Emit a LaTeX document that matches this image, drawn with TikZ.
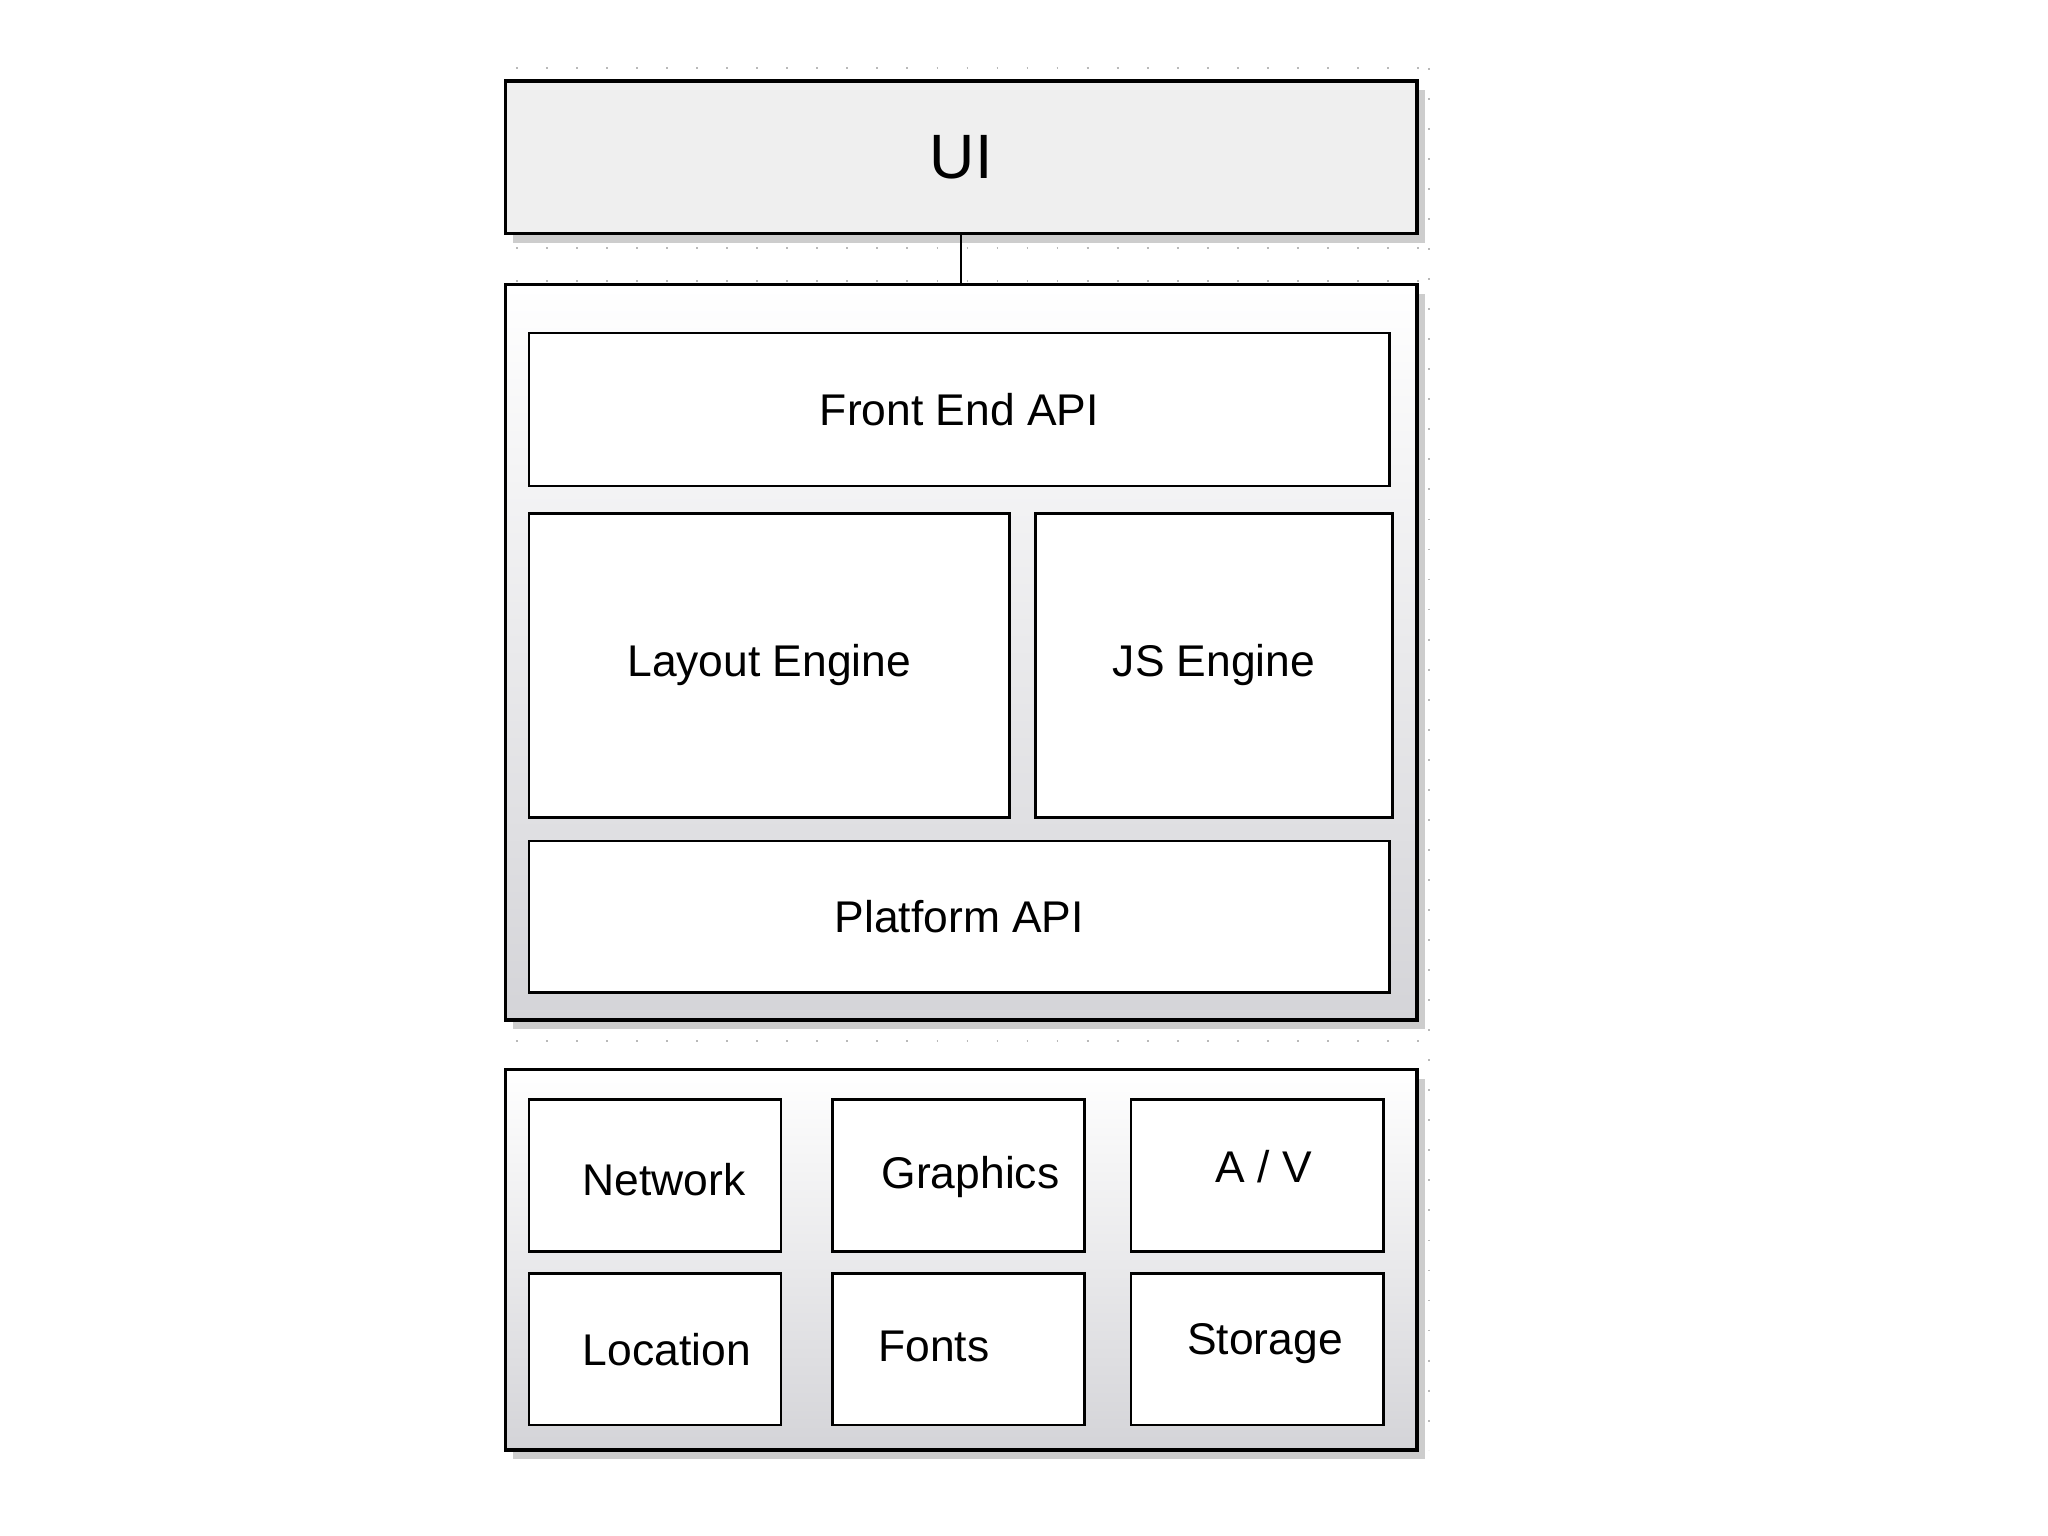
\documentclass[tikz,border=0pt]{standalone}
\usepackage{fontspec}
\setmainfont{Liberation Sans}
\usepackage{tikz}
\usetikzlibrary{calc}
\usetikzlibrary{shadows}

\begin{document}
\begin{tikzpicture}[x=1pt,y=-1pt,
        layer/.style={draw,line width=1.3pt,minimum width=349pt,inner sep=0pt,
            drop shadow={shadow xshift=3pt,shadow yshift=-3.5pt,fill=shadowgray,opacity=1}},
        gradlayer/.style={layer,top color=white,bottom color=boxgray},
        block/.style={draw,line width=1pt,fill=white,inner sep=0pt,font=\fontsize{17}{20}\selectfont},
        cell/.style={block,minimum width=96.5pt,minimum height=58pt},
        celltext/.style={font=\fontsize{17}{20}\selectfont},
        guide/.style={gray!55,line width=0.7pt,dash pattern=on 0.7pt off 10.8pt}]
    \definecolor{boxgray}{RGB}{212,212,216}
    \definecolor{uigray}{RGB}{239,239,239}
    \definecolor{shadowgray}{RGB}{205,205,205}

    \useasboundingbox (0,0) rectangle (784,588);

    % page guides
    \draw[guide] (197.5,26) -- (547,26);
    \draw[guide] (197.5,95) -- (547,95);
    \draw[guide] (197.5,107.5) -- (547,107.5);
    \draw[guide] (197.5,398.5) -- (547,398.5);
    \draw[guide] (547,26) -- (547,555);

    % layers
    \node[layer,fill=uigray,minimum height=58.5pt,font=\fontsize{24}{28}\selectfont] (ui) at (368,60.25) {UI};
    \node[gradlayer,minimum height=281.5pt] (core) at (368,249.75) {};
    \node[gradlayer,minimum height=145.5pt] (backend) at (368,482.25) {};

    \draw[line width=0.7pt] (ui.south) -- (core.north);

    % engine parts
    \node[block,minimum width=329.5pt,minimum height=58.5pt] (frontapi) at (367.25,156.75) {Front End API};
    \node[block,minimum width=184pt,minimum height=116.5pt] (layout) at (294.5,254.75) {Layout Engine};
    \node[block,minimum width=136.5pt,minimum height=116.5pt] (js) at (464.75,254.75) {JS Engine};
    \node[block,minimum width=329.5pt,minimum height=58pt] (platformapi) at (367.25,351) {Platform API};

    % platform services
    \node[cell,label={[celltext,xshift=3.5pt,yshift=-1.5pt]center:Network}] (network) at (250.75,450) {};
    \node[cell,label={[celltext,xshift=4.5pt,yshift=-0.5pt]center:Graphics}] (graphics) at (367,450) {};
    \node[cell,label={[celltext,xshift=2.5pt,yshift=3.5pt]center:A / V}] (av) at (481.25,450) {};
    \node[cell,label={[celltext,xshift=4.5pt]center:Location}] (location) at (250.75,516.5) {};
    \node[cell,label={[celltext,xshift=-9.5pt,yshift=1pt]center:Fonts}] (fonts) at (367,516.5) {};
    \node[cell,label={[celltext,xshift=3pt,yshift=2pt]center:Storage}] (storage) at (481.25,516.5) {};
\end{tikzpicture}
\end{document}
